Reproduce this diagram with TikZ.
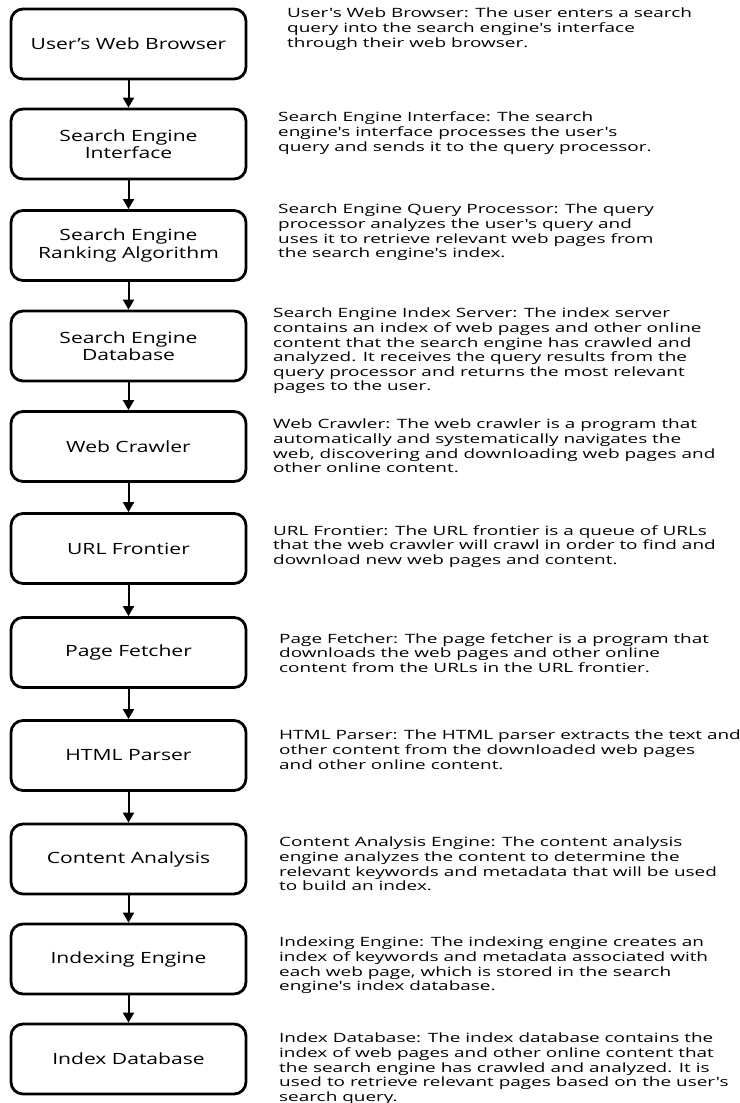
\documentclass[tikz,border=0pt]{standalone}
\usepackage{fontspec}
\setmainfont{Open Sans}[FakeStretch=1.36]
\newfontfamily\descfont{Open Sans}[FakeStretch=1.48,Ligatures=TeXOff]
\usepackage{tikz}
\usetikzlibrary{arrows.meta,positioning,calc}

\begin{document}
\begin{tikzpicture}[x=1pt,y=-1pt,
stage/.style={draw,line width=2.8pt,rounded corners=12pt,minimum width=235pt,minimum height=70pt,align=center,inner sep=0pt,font=\fontsize{15.5}{17.5}\selectfont},
note/.style={anchor=north west,align=left,inner sep=0pt,font=\descfont\fontsize{12.8}{14.6}\selectfont},
flow/.style={line width=2pt,-{Triangle[length=10pt,width=11pt]}}]
\useasboundingbox (0,0) rectangle (739,1103);

\node (s1) at (128.5,44)[stage] {User’s Web Browser};
\node (s2) at (128.5,144)[stage] {Search Engine\\Interface};
\node (s3) at (128.5,245.5)[stage] {Search Engine\\Ranking Algorithm};
\node (s4) at (128.5,346)[stage] {Search Engine\\Database};
\node (s5) at (128.5,446.5)[stage] {Web Crawler};
\node (s6) at (128.5,548.5)[stage] {URL Frontier};
\node (s7) at (128.5,652.5)[stage] {Page Fetcher};
\node (s8) at (128.5,755.5)[stage] {HTML Parser};
\node (s9) at (128.5,859)[stage] {Content Analysis};
\node (s10) at (128.5,959)[stage] {Indexing Engine};
\node (s11) at (128.5,1059)[stage] {Index Database};

\foreach \a/\b in {s1/s2,s2/s3,s3/s4,s4/s5,s5/s6,s6/s7,s7/s8,s8/s9,s9/s10,s10/s11}
  \draw[flow] (\a) -- (\b);

\node (n1) at (287,8)[note] {User's Web Browser: The user enters a search\\query into the search engine's interface\\through their web browser.};
\node (n2) at (278,112)[note] {Search Engine Interface: The search\\engine's interface processes the user's\\query and sends it to the query processor.};
\node (n3) at (278,204)[note] {Search Engine Query Processor: The query\\processor analyzes the user's query and\\uses it to retrieve relevant web pages from\\the search engine's index.};
\node (n4) at (273,308)[note] {Search Engine Index Server: The index server\\contains an index of web pages and other online\\content that the search engine has crawled and\\analyzed. It receives the query results from the\\query processor and returns the most relevant\\pages to the user.};
\node (n5) at (273,419)[note] {Web Crawler: The web crawler is a program that\\automatically and systematically navigates the\\web, discovering and downloading web pages and\\other online content.};
\node (n6) at (273,525)[note] {URL Frontier: The URL frontier is a queue of URLs\\that the web crawler will crawl in order to find and\\download new web pages and content.};
\node (n7) at (279,633)[note] {Page Fetcher: The page fetcher is a program that\\downloads the web pages and other online\\content from the URLs in the URL frontier.};
\node (n8) at (279,730)[note] {HTML Parser: The HTML parser extracts the text and\\other content from the downloaded web pages\\and other online content.};
\node (n9) at (279,837)[note] {Content Analysis Engine: The content analysis\\engine analyzes the content to determine the\\relevant keywords and metadata that will be used\\to build an index.};
\node (n10) at (279,937)[note] {Indexing Engine: The indexing engine creates an\\index of keywords and metadata associated with\\each web page, which is stored in the search\\engine's index database.};
\node (n11) at (279,1033)[note] {Index Database: The index database contains the\\index of web pages and other online content that\\the search engine has crawled and analyzed. It is\\used to retrieve relevant pages based on the user's\\search query.};
\end{tikzpicture}
\end{document}
